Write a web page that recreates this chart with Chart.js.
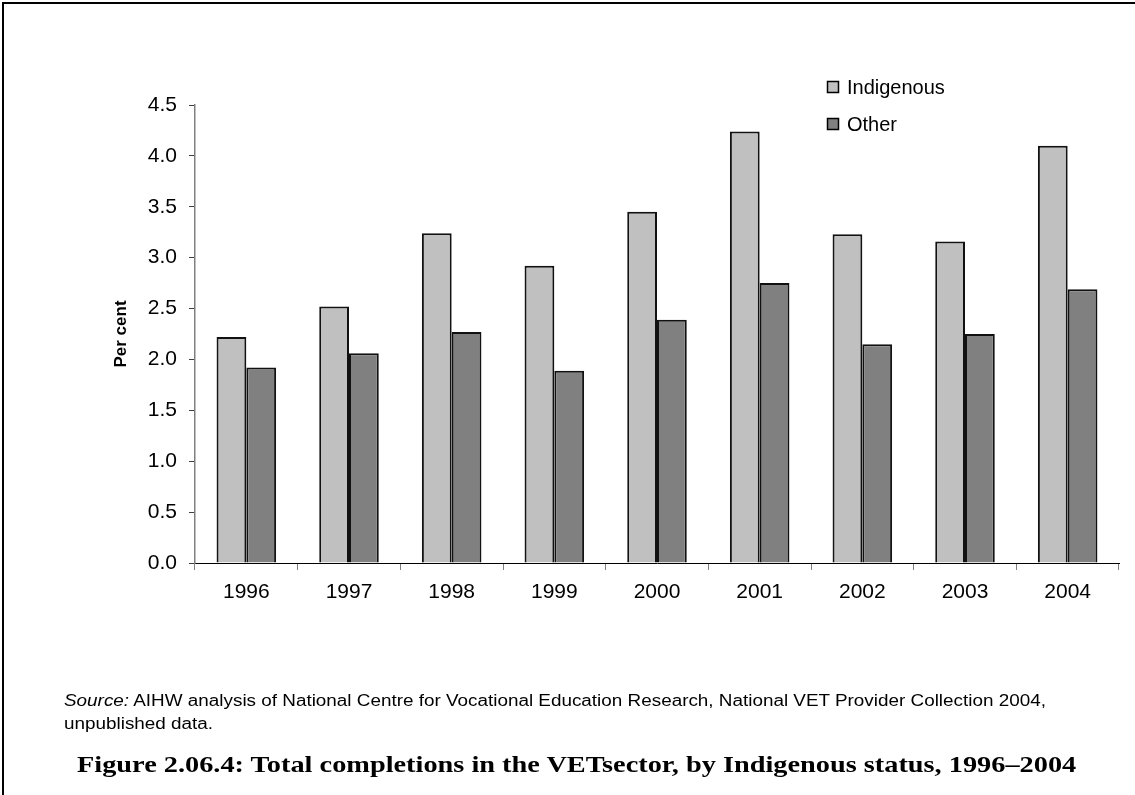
<!DOCTYPE html>
<html>
<head>
<meta charset="utf-8">
<script src="https://cdn.jsdelivr.net/npm/chart.js@4.4.1/dist/chart.umd.min.js"></script>
<style>
  body { margin: 0; background: #fff; width: 1135px; height: 795px; overflow: hidden; position: relative; }
  #frame { position: absolute; left: 2px; top: 2px; width: 1150px; height: 810px; border-top: 2px solid #000; border-left: 2px solid #000; }
  #chartBox { position: absolute; left: 0; top: 0; width: 1135px; height: 795px; }
  #source { position: absolute; left: 64px; top: 689px; font-family: 'Liberation Sans', Arial, sans-serif; font-size: 16px; line-height: 23px; color: #000; white-space: nowrap; transform: scaleX(1.18); transform-origin: left top; }
  #caption { position: absolute; left: 77px; top: 751px; font-family: 'Liberation Serif', 'Times New Roman', serif; font-weight: bold; font-size: 24px; color: #000; white-space: nowrap; transform: scaleX(1.18); transform-origin: left top; }
</style>
</head>
<body>
<div id="frame"></div>
<div id="chartBox"><canvas id="mychart" width="1135" height="795"></canvas></div>
<div id="source"><i>Source:</i> AIHW analysis of National Centre for Vocational Education Research, National VET Provider Collection 2004,<br>unpublished data.</div>
<div id="caption">Figure 2.06.4: Total completions in the VETsector, by Indigenous status, 1996–2004</div>
<script>
let years = ['1996', '1997', '1998', '1999', '2000', '2001', '2002', '2003', '2004'];
let indigenous = [2.22, 2.52, 3.24, 2.92, 3.45, 4.24, 3.23, 3.16, 4.10];
let other = [1.92, 2.06, 2.27, 1.89, 2.39, 2.75, 2.15, 2.25, 2.69];
let seriesNames = ['Indigenous', 'Other'];
let seriesColors = ['#C0C0C0', '#808080'];

// legend drawn inside the plot, top right, stacked
let boxLegend = {
    id: 'boxLegend',
    afterDraw(chart) {
        let c = chart.ctx;
        c.save();
        c.font = '20px "Liberation Sans", Arial, sans-serif';
        c.textBaseline = 'middle';
        chart.data.datasets.forEach((ds, i) => {
            let y = 87 + i * 37;
            c.fillStyle = ds.backgroundColor;
            c.fillRect(827, y - 6, 12, 12);
            c.strokeStyle = '#000';
            c.lineWidth = 1.5;
            c.strokeRect(827.5, y - 5.5, 11, 11);
            c.fillStyle = '#000';
            c.fillText(ds.label, 847, y + 1);
        });
        c.restore();
    }
};

Chart.defaults.font.family = '"Liberation Sans", Arial, sans-serif';
Chart.defaults.color = '#000';

let ctx = document.querySelector('#mychart').getContext('2d');
let data = {
    labels: years,
    datasets: [{
        label: seriesNames[0],
        data: indigenous,
        backgroundColor: seriesColors[0],
        borderColor: '#111',
        borderWidth: 2
    }, {
        label: seriesNames[1],
        data: other,
        backgroundColor: seriesColors[1],
        borderColor: '#111',
        borderWidth: 2
    }]
};
let myChart = new Chart(ctx, {
    type: 'bar',
    data: data,
    options: {
        responsive: false,
        animation: false,
        devicePixelRatio: 1,
        categoryPercentage: 0.58,
        barPercentage: 1.0,
        layout: { padding: { left: 100, right: 16, top: 105, bottom: 182 } },
        scales: {
            x: {
                afterFit(scale) { scale.height = 50; },
                border: { color: '#000', width: 1 },
                grid: { drawOnChartArea: false, drawTicks: true, tickLength: 7, color: '#808080', offset: true },
                ticks: { font: { size: 21 }, padding: 10, color: '#000' }
            },
            y: {
                min: 0,
                max: 4.5,
                afterFit(scale) { scale.width = 95; },
                border: { color: '#808080', width: 1.5 },
                grid: { drawOnChartArea: false, drawTicks: true, tickLength: 6, color: '#404040' },
                ticks: {
                    stepSize: 0.5,
                    font: { size: 21 },
                    padding: 12,
                    color: '#000',
                    callback: v => v.toFixed(1)
                },
                title: {
                    display: true,
                    text: 'Per cent',
                    font: { size: 17, weight: 'bold' },
                    padding: { top: 11, bottom: 0 },
                    color: '#000'
                }
            }
        },
        plugins: {
            legend: { display: false },
            tooltip: { enabled: false }
        }
    },
    plugins: [boxLegend]
});
</script>
</body>
</html>
